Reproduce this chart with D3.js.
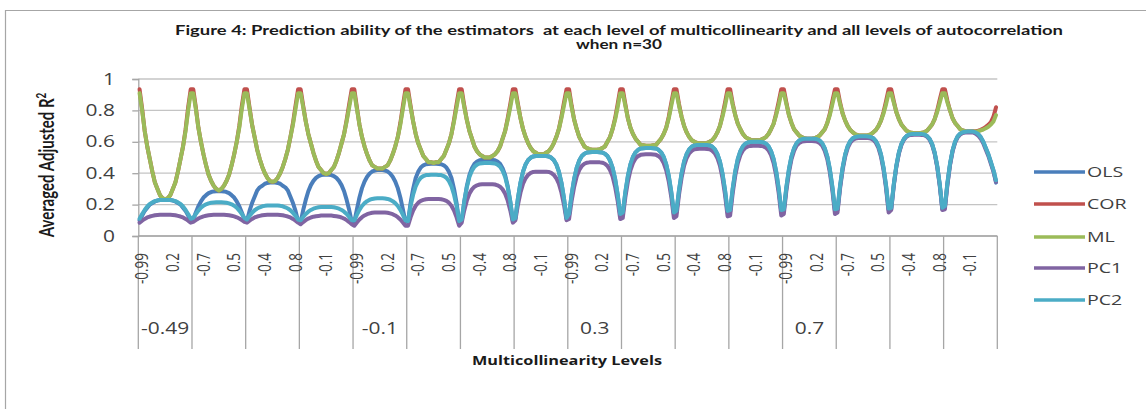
<!DOCTYPE html>
<html><head><meta charset="utf-8">
<script src="https://cdn.jsdelivr.net/npm/d3@7"></script>
<style>html,body{margin:0;padding:0;background:#fff;} svg{display:block;}</style>
</head><body>
<svg id="chart" width="1146" height="409"></svg>
<script>
// ---- data ----
const autocorrLevels = [-0.99,-0.9,-0.8,-0.7,-0.6,-0.5,-0.4,-0.3,-0.2,-0.1,0,0.1,0.2,0.3,0.4,0.5,0.6,0.7,0.8,0.9,0.99];
const multicolLevels = [-0.49,-0.4,-0.3,-0.2,-0.1,0,0.1,0.2,0.3,0.4,0.5,0.6,0.7,0.8,0.9,0.99];
const yTickValues = [0,0.2,0.4,0.6,0.8,1];
const seriesNames = ["OLS","COR","ML","PC1","PC2"];

const OLS = [
[0.10,0.13,0.16,0.18,0.20,0.21,0.22,0.226,0.229,0.23,0.23,0.23,0.229,0.226,0.22,0.21,0.20,0.18,0.16,0.13,0.10],
[0.105,0.15,0.19,0.22,0.245,0.26,0.273,0.28,0.284,0.285,0.285,0.285,0.284,0.28,0.273,0.26,0.245,0.22,0.19,0.15,0.105],
[0.095,0.16,0.21,0.25,0.29,0.31,0.32,0.333,0.338,0.34,0.34,0.34,0.338,0.333,0.32,0.31,0.29,0.25,0.21,0.16,0.095],
[0.09,0.165,0.23,0.285,0.324,0.351,0.37,0.382,0.388,0.39,0.39,0.39,0.388,0.382,0.37,0.351,0.324,0.285,0.23,0.165,0.09],
[0.09,0.17,0.245,0.305,0.347,0.377,0.398,0.411,0.417,0.42,0.42,0.42,0.417,0.411,0.398,0.377,0.347,0.305,0.245,0.17,0.09],
[0.09,0.21,0.30,0.37,0.41,0.436,0.45,0.457,0.459,0.46,0.46,0.46,0.459,0.457,0.45,0.436,0.41,0.37,0.30,0.21,0.09],
[0.095,0.22,0.317,0.388,0.432,0.46,0.474,0.482,0.484,0.485,0.485,0.485,0.484,0.482,0.474,0.46,0.432,0.388,0.317,0.22,0.095],
[0.11,0.24,0.34,0.41,0.456,0.484,0.499,0.507,0.509,0.51,0.51,0.51,0.509,0.507,0.499,0.484,0.456,0.41,0.34,0.24,0.11],
[0.135,0.263,0.363,0.435,0.481,0.509,0.524,0.532,0.534,0.535,0.535,0.535,0.534,0.532,0.524,0.509,0.481,0.435,0.363,0.263,0.135],
[0.14,0.274,0.379,0.455,0.503,0.533,0.549,0.557,0.559,0.56,0.56,0.56,0.559,0.557,0.549,0.533,0.503,0.455,0.379,0.274,0.14],
[0.15,0.288,0.395,0.473,0.522,0.552,0.568,0.577,0.579,0.58,0.58,0.58,0.579,0.577,0.568,0.552,0.522,0.473,0.395,0.288,0.15],
[0.155,0.297,0.409,0.489,0.54,0.571,0.588,0.596,0.599,0.60,0.60,0.60,0.599,0.596,0.588,0.571,0.54,0.489,0.409,0.297,0.155],
[0.16,0.307,0.422,0.505,0.558,0.59,0.608,0.616,0.619,0.62,0.62,0.62,0.619,0.616,0.608,0.59,0.558,0.505,0.422,0.307,0.16],
[0.165,0.315,0.433,0.518,0.572,0.604,0.622,0.631,0.634,0.635,0.635,0.635,0.634,0.631,0.622,0.604,0.572,0.518,0.433,0.315,0.165],
[0.17,0.324,0.444,0.53,0.585,0.619,0.637,0.646,0.649,0.65,0.65,0.65,0.649,0.646,0.637,0.619,0.585,0.53,0.444,0.324,0.17],
[0.18,0.335,0.456,0.544,0.60,0.634,0.652,0.661,0.664,0.665,0.665,0.665,0.66,0.65,0.63,0.60,0.56,0.52,0.47,0.415,0.34]
];
const COR = [
[0.935,0.81,0.67,0.57,0.49,0.41,0.34,0.30,0.26,0.24,0.235,0.24,0.26,0.30,0.34,0.41,0.49,0.57,0.68,0.82,0.935],
[0.935,0.82,0.69,0.60,0.52,0.45,0.39,0.35,0.32,0.30,0.29,0.30,0.32,0.35,0.39,0.45,0.52,0.60,0.70,0.83,0.935],
[0.935,0.82,0.71,0.63,0.55,0.49,0.44,0.40,0.37,0.35,0.345,0.35,0.37,0.40,0.44,0.49,0.55,0.63,0.72,0.83,0.935],
[0.935,0.83,0.73,0.65,0.59,0.53,0.48,0.44,0.42,0.40,0.395,0.40,0.42,0.44,0.48,0.53,0.59,0.65,0.74,0.84,0.935],
[0.935,0.82,0.71,0.63,0.57,0.52,0.48,0.45,0.44,0.43,0.43,0.43,0.44,0.45,0.48,0.52,0.57,0.63,0.72,0.83,0.935],
[0.935,0.83,0.73,0.65,0.59,0.55,0.51,0.49,0.47,0.47,0.465,0.47,0.47,0.49,0.51,0.55,0.59,0.65,0.74,0.84,0.935],
[0.935,0.83,0.74,0.67,0.62,0.57,0.54,0.52,0.51,0.50,0.50,0.50,0.51,0.52,0.54,0.57,0.62,0.67,0.75,0.84,0.935],
[0.935,0.84,0.75,0.68,0.63,0.59,0.56,0.54,0.53,0.52,0.52,0.52,0.53,0.54,0.56,0.59,0.63,0.68,0.76,0.85,0.935],
[0.935,0.83,0.74,0.68,0.63,0.60,0.57,0.56,0.553,0.55,0.55,0.55,0.553,0.56,0.57,0.60,0.63,0.68,0.75,0.84,0.935],
[0.935,0.84,0.75,0.69,0.65,0.62,0.60,0.58,0.578,0.575,0.575,0.575,0.578,0.58,0.60,0.62,0.65,0.69,0.76,0.85,0.935],
[0.935,0.84,0.76,0.70,0.66,0.63,0.61,0.60,0.593,0.59,0.59,0.59,0.593,0.60,0.61,0.63,0.66,0.70,0.77,0.85,0.935],
[0.935,0.845,0.77,0.715,0.68,0.65,0.63,0.62,0.612,0.61,0.61,0.61,0.612,0.62,0.63,0.65,0.68,0.715,0.78,0.855,0.935],
[0.935,0.85,0.77,0.72,0.68,0.66,0.64,0.63,0.622,0.62,0.62,0.62,0.622,0.63,0.64,0.66,0.68,0.72,0.78,0.86,0.935],
[0.935,0.85,0.78,0.735,0.70,0.675,0.66,0.648,0.642,0.64,0.64,0.64,0.642,0.648,0.66,0.675,0.70,0.735,0.79,0.86,0.935],
[0.935,0.86,0.79,0.745,0.71,0.69,0.67,0.662,0.657,0.655,0.655,0.655,0.657,0.662,0.67,0.69,0.71,0.745,0.80,0.87,0.935],
[0.935,0.86,0.80,0.75,0.72,0.70,0.68,0.672,0.667,0.665,0.665,0.667,0.668,0.671,0.676,0.684,0.695,0.708,0.725,0.76,0.82]
];
const ML = [
[0.91,0.80,0.67,0.57,0.49,0.41,0.34,0.30,0.26,0.24,0.235,0.24,0.26,0.30,0.34,0.41,0.49,0.57,0.67,0.80,0.91],
[0.91,0.81,0.69,0.60,0.52,0.45,0.39,0.35,0.32,0.30,0.29,0.30,0.32,0.35,0.39,0.45,0.52,0.60,0.69,0.81,0.91],
[0.91,0.81,0.71,0.63,0.55,0.49,0.44,0.40,0.37,0.35,0.345,0.35,0.37,0.40,0.44,0.49,0.55,0.63,0.71,0.81,0.91],
[0.91,0.82,0.73,0.65,0.59,0.53,0.48,0.44,0.42,0.40,0.395,0.40,0.42,0.44,0.48,0.53,0.59,0.65,0.73,0.82,0.91],
[0.91,0.81,0.71,0.63,0.57,0.52,0.48,0.45,0.44,0.43,0.43,0.43,0.44,0.45,0.48,0.52,0.57,0.63,0.71,0.81,0.91],
[0.91,0.82,0.73,0.65,0.59,0.55,0.51,0.49,0.47,0.47,0.465,0.47,0.47,0.49,0.51,0.55,0.59,0.65,0.73,0.82,0.91],
[0.91,0.82,0.74,0.67,0.62,0.57,0.54,0.52,0.51,0.50,0.50,0.50,0.51,0.52,0.54,0.57,0.62,0.67,0.74,0.82,0.91],
[0.91,0.83,0.75,0.68,0.63,0.59,0.56,0.54,0.53,0.52,0.52,0.52,0.53,0.54,0.56,0.59,0.63,0.68,0.75,0.83,0.91],
[0.91,0.82,0.74,0.68,0.63,0.60,0.57,0.56,0.553,0.55,0.55,0.55,0.553,0.56,0.57,0.60,0.63,0.68,0.74,0.82,0.91],
[0.91,0.83,0.75,0.69,0.65,0.62,0.60,0.58,0.578,0.575,0.575,0.575,0.578,0.58,0.60,0.62,0.65,0.69,0.75,0.83,0.91],
[0.91,0.83,0.76,0.70,0.66,0.63,0.61,0.60,0.593,0.59,0.59,0.59,0.593,0.60,0.61,0.63,0.66,0.70,0.76,0.83,0.91],
[0.91,0.835,0.77,0.715,0.68,0.65,0.63,0.62,0.612,0.61,0.61,0.61,0.612,0.62,0.63,0.65,0.68,0.715,0.77,0.835,0.91],
[0.91,0.84,0.77,0.72,0.68,0.66,0.64,0.63,0.622,0.62,0.62,0.62,0.622,0.63,0.64,0.66,0.68,0.72,0.77,0.84,0.91],
[0.91,0.84,0.78,0.735,0.70,0.675,0.66,0.648,0.642,0.64,0.64,0.64,0.642,0.648,0.66,0.675,0.70,0.735,0.78,0.84,0.91],
[0.91,0.85,0.79,0.745,0.71,0.69,0.67,0.662,0.657,0.655,0.655,0.655,0.657,0.662,0.67,0.69,0.71,0.745,0.79,0.85,0.91],
[0.91,0.85,0.80,0.75,0.72,0.70,0.68,0.672,0.667,0.665,0.665,0.665,0.666,0.668,0.672,0.678,0.686,0.696,0.71,0.73,0.77]
];
const PC1 = [
[0.085,0.098,0.109,0.118,0.124,0.128,0.132,0.134,0.135,0.135,0.135,0.135,0.135,0.134,0.132,0.128,0.124,0.118,0.109,0.098,0.085],
[0.09,0.101,0.111,0.119,0.125,0.129,0.132,0.134,0.135,0.135,0.135,0.135,0.135,0.134,0.132,0.129,0.125,0.119,0.111,0.101,0.09],
[0.085,0.098,0.109,0.118,0.124,0.128,0.132,0.134,0.135,0.135,0.135,0.135,0.135,0.134,0.132,0.128,0.124,0.118,0.109,0.098,0.085],
[0.075,0.089,0.101,0.111,0.118,0.123,0.126,0.128,0.13,0.13,0.13,0.13,0.13,0.128,0.126,0.123,0.118,0.111,0.101,0.089,0.075],
[0.065,0.086,0.105,0.12,0.131,0.139,0.144,0.148,0.149,0.15,0.15,0.15,0.149,0.148,0.144,0.139,0.131,0.12,0.105,0.086,0.065],
[0.065,0.119,0.162,0.193,0.212,0.224,0.23,0.234,0.235,0.235,0.235,0.235,0.235,0.234,0.23,0.224,0.212,0.193,0.162,0.119,0.065],
[0.085,0.163,0.225,0.269,0.297,0.314,0.323,0.328,0.33,0.33,0.33,0.33,0.33,0.328,0.323,0.314,0.297,0.269,0.225,0.163,0.085],
[0.10,0.199,0.277,0.333,0.368,0.39,0.402,0.408,0.41,0.41,0.41,0.41,0.41,0.408,0.402,0.39,0.368,0.333,0.277,0.199,0.10],
[0.108,0.224,0.314,0.38,0.421,0.447,0.46,0.467,0.469,0.47,0.47,0.47,0.469,0.467,0.46,0.447,0.421,0.38,0.314,0.224,0.108],
[0.115,0.245,0.346,0.419,0.465,0.494,0.509,0.517,0.519,0.52,0.52,0.52,0.519,0.517,0.509,0.494,0.465,0.419,0.346,0.245,0.115],
[0.125,0.263,0.37,0.448,0.497,0.527,0.543,0.552,0.554,0.555,0.555,0.555,0.554,0.552,0.543,0.527,0.497,0.448,0.37,0.263,0.125],
[0.13,0.272,0.384,0.464,0.515,0.546,0.563,0.571,0.574,0.575,0.575,0.575,0.574,0.571,0.563,0.546,0.515,0.464,0.384,0.272,0.13],
[0.14,0.289,0.405,0.489,0.542,0.575,0.592,0.601,0.604,0.605,0.605,0.605,0.604,0.601,0.592,0.575,0.542,0.489,0.405,0.289,0.14],
[0.15,0.302,0.421,0.506,0.561,0.594,0.612,0.621,0.624,0.625,0.625,0.625,0.624,0.621,0.612,0.594,0.561,0.506,0.421,0.302,0.15],
[0.165,0.319,0.439,0.525,0.58,0.614,0.632,0.641,0.644,0.645,0.645,0.645,0.644,0.641,0.632,0.614,0.58,0.525,0.439,0.319,0.165],
[0.17,0.327,0.449,0.538,0.594,0.628,0.647,0.656,0.659,0.66,0.66,0.66,0.652,0.64,0.62,0.59,0.55,0.51,0.46,0.41,0.345]
];
const PC2 = [
[0.11,0.14,0.166,0.188,0.204,0.214,0.222,0.227,0.229,0.23,0.23,0.23,0.229,0.227,0.222,0.214,0.204,0.188,0.166,0.14,0.11],
[0.115,0.14,0.162,0.18,0.193,0.202,0.208,0.212,0.214,0.215,0.215,0.215,0.214,0.212,0.208,0.202,0.193,0.18,0.162,0.14,0.115],
[0.105,0.128,0.147,0.164,0.175,0.183,0.189,0.192,0.194,0.195,0.195,0.195,0.194,0.192,0.189,0.183,0.175,0.164,0.147,0.128,0.105],
[0.10,0.121,0.14,0.155,0.166,0.174,0.179,0.183,0.184,0.185,0.185,0.185,0.184,0.183,0.179,0.174,0.166,0.155,0.14,0.121,0.10],
[0.10,0.135,0.166,0.191,0.209,0.222,0.231,0.236,0.239,0.24,0.24,0.24,0.239,0.236,0.231,0.222,0.209,0.191,0.166,0.135,0.10],
[0.095,0.19,0.263,0.316,0.35,0.371,0.382,0.388,0.389,0.39,0.39,0.39,0.389,0.388,0.382,0.371,0.35,0.316,0.263,0.19,0.095],
[0.105,0.22,0.31,0.375,0.416,0.442,0.455,0.462,0.464,0.465,0.465,0.465,0.464,0.462,0.455,0.442,0.416,0.375,0.31,0.22,0.105],
[0.115,0.241,0.34,0.411,0.457,0.484,0.499,0.507,0.509,0.51,0.51,0.51,0.509,0.507,0.499,0.484,0.457,0.411,0.34,0.241,0.115],
[0.14,0.266,0.365,0.436,0.482,0.509,0.524,0.532,0.534,0.535,0.535,0.535,0.534,0.532,0.524,0.509,0.482,0.436,0.365,0.266,0.14],
[0.15,0.281,0.384,0.458,0.505,0.533,0.549,0.557,0.559,0.56,0.56,0.56,0.559,0.557,0.549,0.533,0.505,0.458,0.384,0.281,0.15],
[0.16,0.294,0.40,0.475,0.523,0.553,0.569,0.577,0.579,0.58,0.58,0.58,0.579,0.577,0.569,0.553,0.523,0.475,0.40,0.294,0.16],
[0.165,0.304,0.413,0.491,0.541,0.572,0.588,0.597,0.599,0.60,0.60,0.60,0.599,0.597,0.588,0.572,0.541,0.491,0.413,0.304,0.165],
[0.17,0.314,0.427,0.508,0.559,0.591,0.608,0.616,0.619,0.62,0.62,0.62,0.619,0.616,0.608,0.591,0.559,0.508,0.427,0.314,0.17],
[0.175,0.322,0.437,0.52,0.573,0.605,0.623,0.631,0.634,0.635,0.635,0.635,0.634,0.631,0.623,0.605,0.573,0.52,0.437,0.322,0.175],
[0.18,0.33,0.448,0.533,0.587,0.619,0.637,0.646,0.649,0.65,0.65,0.65,0.649,0.646,0.637,0.619,0.587,0.533,0.448,0.33,0.18],
[0.19,0.342,0.461,0.546,0.601,0.634,0.652,0.661,0.664,0.665,0.665,0.665,0.66,0.65,0.63,0.60,0.56,0.52,0.47,0.42,0.355]
];

const seriesData = {OLS, COR, ML, PC1, PC2};
const colors = {OLS:"#4a7ebb", COR:"#c0504d", ML:"#9bbb59", PC1:"#8064a2", PC2:"#4bacc6"};

// ---- layout ----
const SX = 1.35;              // horizontal glyph stretch seen in the reference
const FONT = "'Open Sans', 'DejaVu Sans', sans-serif";
const svg = d3.select("#chart");

const categories = [];
multicolLevels.forEach((m, gi) => autocorrLevels.forEach((a, ai) => categories.push({g: gi, a: ai, id: gi * autocorrLevels.length + ai})));

const x = d3.scaleBand().domain(categories.map(c => c.id)).range([138.3, 997.3]).padding(0);
const y = d3.scaleLinear().domain([0, 1]).range([236, 79]);
const cx = id => x(id) + x.bandwidth() / 2;

// frame
svg.append("path").attr("d", "M5.5,409 V10.5 H1146").attr("fill", "none").attr("stroke", "#a6a6a6").attr("stroke-width", 1.2);

// title
const title = svg.append("g").attr("font-family", "Lato, 'Open Sans', sans-serif").attr("font-weight", "bold").attr("fill", "#1a1a1a");
title.append("text").attr("x", 619).attr("y", 35).attr("text-anchor", "middle").attr("font-size", 12.5)
  .style("white-space", "pre")
  .attr("textLength", 888).attr("lengthAdjust", "spacingAndGlyphs")
  .text("Figure 4: Prediction ability of the estimators  at each level of multicollinearity and all levels of autocorrelation");
title.append("text").attr("x", 619).attr("y", 49).attr("text-anchor", "middle").attr("font-size", 12.5)
  .attr("textLength", 86).attr("lengthAdjust", "spacingAndGlyphs")
  .text("when n=30");

// gridlines
svg.append("g").selectAll("line").data(yTickValues).join("line")
  .attr("x1", 138.3).attr("x2", 997.3).attr("y1", d => y(d)).attr("y2", d => y(d))
  .attr("stroke", "#c4c4c4").attr("stroke-width", 1.3);

// y axis
const yAxis = svg.append("g").attr("transform", "translate(138.3,0)")
  .call(d3.axisLeft(y).tickValues(yTickValues).tickSize(6).tickFormat(d3.format("")));
yAxis.select(".domain").attr("stroke", "#a6a6a6").attr("stroke-width", 1.3);
yAxis.selectAll(".tick line").attr("stroke", "#a6a6a6").attr("stroke-width", 1.3);
yAxis.selectAll(".tick text").remove();
svg.append("g").selectAll("text").data(yTickValues).join("text")
  .attr("transform", d => `translate(115,${y(d)}) scale(${SX},1)`)
  .attr("dy", "0.36em").attr("text-anchor", "end")
  .attr("font-family", FONT).attr("font-size", 15.5).attr("fill", "#404040")
  .text(d => d3.format("")(d));

// x axis baseline
svg.append("line").attr("x1", 138.3).attr("x2", 997.3).attr("y1", y(0)).attr("y2", y(0))
  .attr("stroke", "#a6a6a6").attr("stroke-width", 1.3);

// group separator lines
const groupEdges = multicolLevels.map((m, gi) => x(gi * autocorrLevels.length)).concat([x.range()[1]]);
svg.append("g").selectAll("line").data(groupEdges).join("line")
  .attr("x1", d => d).attr("x2", d => d).attr("y1", y(0)).attr("y2", 349)
  .attr("stroke", "#a6a6a6").attr("stroke-width", 1.3);

// inner category labels (every 12th)
const innerShown = categories.filter(c => c.id % 12 === 0);
svg.append("g").selectAll("text").data(innerShown).join("text")
  .attr("transform", d => `translate(${cx(d.id) + 2},253) scale(${SX},1) rotate(-90)`)
  .attr("dy", "0.36em").attr("text-anchor", "end")
  .attr("font-family", FONT).attr("font-size", 13.5).attr("fill", "#404040")
  .text(d => autocorrLevels[d.a]);

// outer group labels (every 4th)
const outerShown = multicolLevels.map((m, gi) => ({m, gi})).filter(d => d.gi % 4 === 0);
svg.append("g").selectAll("text").data(outerShown).join("text")
  .attr("transform", d => `translate(${(groupEdges[d.gi] + groupEdges[d.gi + 1]) / 2},334) scale(${SX},1)`)
  .attr("text-anchor", "middle")
  .attr("font-family", FONT).attr("font-size", 15.5).attr("fill", "#404040")
  .text(d => d.m);

// axis titles
svg.append("text").attr("x", 567).attr("y", 365).attr("text-anchor", "middle")
  .attr("font-family", FONT).attr("font-weight", "bold").attr("font-size", 12.5).attr("fill", "#1a1a1a")
  .attr("textLength", 190).attr("lengthAdjust", "spacingAndGlyphs")
  .text("Multicollinearity Levels");

const yt = svg.append("text")
  .attr("transform", `translate(54,165) scale(${SX},1) rotate(-90)`)
  .attr("text-anchor", "middle")
  .attr("font-family", "Lato, 'Open Sans', sans-serif").attr("font-weight", "bold").attr("font-size", 15).attr("fill", "#1a1a1a");
yt.append("tspan").text("Averaged Adjusted R");
yt.append("tspan").attr("baseline-shift", "super").attr("font-size", 10).text("2");

// series lines
const line = d3.line().x(d => cx(d.id)).y(d => y(d.v)).curve(d3.curveLinear);
const plot = svg.append("g");
seriesNames.forEach(name => {
  const rows = seriesData[name];
  const pts = categories.map(c => ({id: c.id, v: rows[c.g][c.a]}));
  plot.append("path").datum(pts).attr("d", line)
    .attr("fill", "none").attr("stroke", colors[name]).attr("stroke-width", 4)
    .attr("stroke-linejoin", "round").attr("stroke-linecap", "round");
});

// legend
const legendY = [172, 204, 237, 268, 300];
const lg = svg.append("g");
seriesNames.forEach((name, i) => {
  lg.append("line").attr("x1", 1034).attr("x2", 1085).attr("y1", legendY[i]).attr("y2", legendY[i])
    .attr("stroke", colors[name]).attr("stroke-width", 3.5);
  lg.append("text").attr("transform", `translate(1087,${legendY[i]}) scale(${SX},1)`)
    .attr("dy", "0.36em").attr("font-family", FONT).attr("font-size", 14.5).attr("fill", "#404040")
    .text(name);
});
</script>
</body></html>
